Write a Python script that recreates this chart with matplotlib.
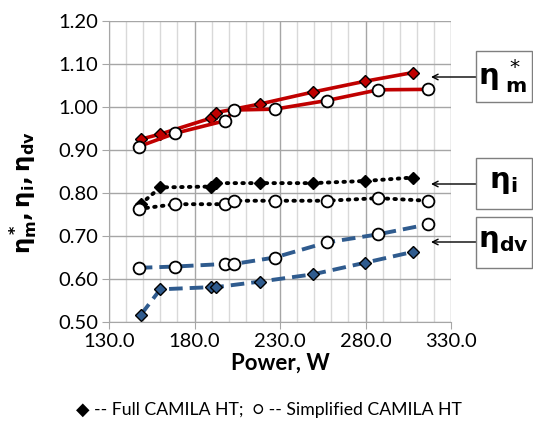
import numpy as np
import matplotlib.pyplot as plt
from matplotlib.patches import Rectangle

plt.rcParams['font.family'] = ['Lato', 'DejaVu Sans']
plt.rcParams['mathtext.fontset'] = 'dejavusans'

# Full CAMILA HT (diamonds)
full_power = [148.5, 160.0, 189.5, 192.6, 218.3, 249.5, 279.9, 307.6]
full_eta_m = [0.925, 0.937, 0.974, 0.987, 1.007, 1.035, 1.060, 1.080]
full_eta_i = [0.774, 0.813, 0.815, 0.823, 0.823, 0.823, 0.828, 0.836]
full_eta_dv = [0.516, 0.576, 0.581, 0.581, 0.594, 0.611, 0.638, 0.663]

# Simplified CAMILA HT (circles)
simp_power = [147.4, 168.8, 197.8, 203.1, 226.9, 257.3, 287.5, 316.4]
simp_eta_m = [0.908, 0.939, 0.968, 0.993, 0.995, 1.015, 1.040, 1.041]
simp_eta_i = [0.763, 0.774, 0.774, 0.782, 0.782, 0.782, 0.788, 0.782]
simp_eta_dv = [0.626, 0.629, 0.635, 0.635, 0.650, 0.685, 0.704, 0.727]

x_ticks = [130.0, 180.0, 230.0, 280.0, 330.0]
y_ticks = [0.50, 0.60, 0.70, 0.80, 0.90, 1.00, 1.10, 1.20]

RED = '#C00000'
BLUE = '#2F5B8E'

fig = plt.figure(figsize=(5.33, 4.25), dpi=100)
ax = fig.add_axes([109 / 533, 1 - 322 / 425, 342 / 533, 301 / 425])

ax.set_xlim(130, 330)
ax.set_ylim(0.50, 1.20)
ax.set_xticks(x_ticks)
ax.set_xticks(np.arange(130, 331, 10), minor=True)
ax.set_yticks(y_ticks)
ax.grid(which='major', color='#A6A6A6', lw=1.0)
ax.grid(which='minor', axis='x', color='#D9D9D9', lw=1.0)
ax.set_axisbelow(True)
for s in ['top', 'right']:
    ax.spines[s].set_visible(False)
for s in ['left', 'bottom']:
    ax.spines[s].set_color('#A6A6A6')
ax.tick_params(which='major', length=5, color='#A6A6A6', labelsize=14.5, pad=3)
ax.tick_params(which='minor', length=0)
ax.set_xticklabels([f'{v:.1f}' for v in x_ticks])
ax.set_yticklabels([f'{v:.2f}' for v in y_ticks])

dmk = dict(marker='D', ms=6.5, mec='black', mew=1.0)
cmk = dict(marker='o', ms=8.5, mfc='white', mec='black', mew=1.3)

ax.plot(full_power, full_eta_m, color=RED, lw=2.6, mfc=RED, **dmk)
ax.plot(simp_power, simp_eta_m, color=RED, lw=2.6, **cmk)
ax.plot(full_power, full_eta_i, color='black', lw=2.8, ls=(0, (0.4, 1.6)),
        dash_capstyle='round', mfc='black', **dmk)
ax.plot(simp_power, simp_eta_i, color='black', lw=2.8, ls=(0, (0.4, 1.6)),
        dash_capstyle='round', **cmk)
ax.plot(full_power, full_eta_dv, color=BLUE, lw=2.8, ls=(0, (3.5, 1.8)),
        mfc=BLUE, **dmk)
ax.plot(simp_power, simp_eta_dv, color=BLUE, lw=2.8, ls=(0, (3.5, 1.8)), **cmk)

ax.set_xlabel('Power, W', fontsize=16, fontweight='bold', labelpad=2)
ax.set_ylabel(r'$\mathbf{\eta^*_m, \eta_i, \eta_{dv}}$', fontsize=16.5)
ax.yaxis.set_label_coords(-0.205, 0.43)

# labelled boxes with arrows
labels = [r'$\mathbf{\eta}^{\ *}_{\ \mathbf{m}}$', r'$\mathbf{\eta_i}$', r'$\mathbf{\eta_{dv}}$']
box_tops = [51, 158, 217]
arrow_y = [77, 184, 242]
W, H = 533, 425
for lab, top, ay in zip(labels, box_tops, arrow_y):
    fig.patches.append(Rectangle((476 / W, 1 - (top + 51) / H), 56 / W, 51 / H,
                                 transform=fig.transFigure, fc='white',
                                 ec='#7F7F7F', lw=1.0))
    fig.text(503 / W, 1 - (top + 25) / H, lab, fontsize=21, ha='center', va='center')
    ax.annotate('', xy=(431 / W, 1 - ay / H), xycoords='figure fraction',
                xytext=(476 / W, 1 - ay / H), textcoords='figure fraction',
                arrowprops=dict(arrowstyle='->', color='black', lw=1.0,
                                shrinkA=0, shrinkB=0))

fig.text(269 / W, 1 - 410 / H,
         '\u25c6 -- Full CAMILA HT;  \u25cb -- Simplified CAMILA HT',
         fontsize=12.7, ha='center', va='center')

fig.savefig('out.png', dpi=100)
